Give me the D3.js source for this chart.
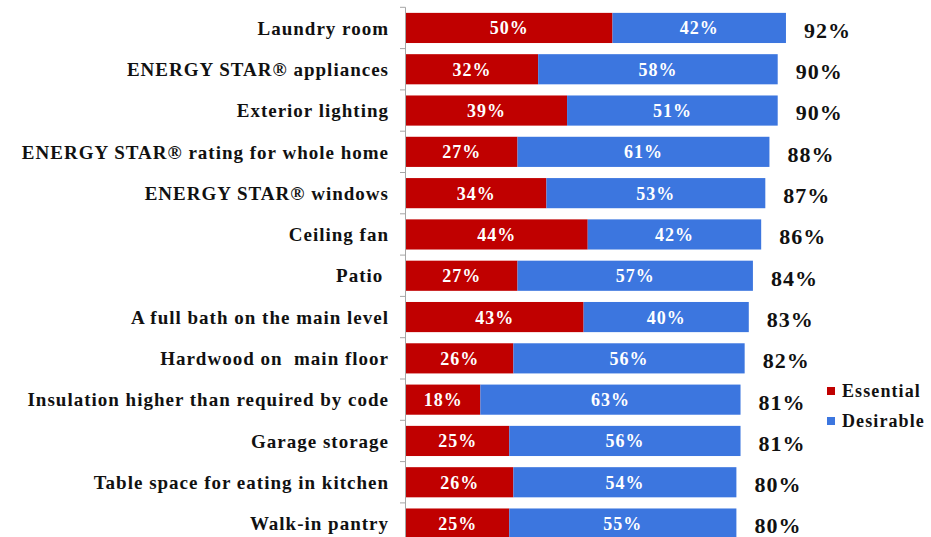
<!DOCTYPE html>
<html>
<head>
<meta charset="utf-8">
<script src="https://cdn.jsdelivr.net/npm/d3@7"></script>
<style>
  html, body { margin: 0; padding: 0; background: #fff; }
  svg { display: block; }
</style>
</head>
<body>
<svg id="chart" width="931" height="537"></svg>
<script>
const categories = [
  "Laundry room",
  "ENERGY STAR® appliances",
  "Exterior lighting",
  "ENERGY STAR® rating for whole home",
  "ENERGY STAR® windows",
  "Ceiling fan",
  "Patio ",
  "A full bath on the main level",
  "Hardwood on  main floor",
  "Insulation higher than required by code",
  "Garage storage",
  "Table space for eating in kitchen",
  "Walk-in pantry"
];
const essential = [50, 32, 39, 27, 34, 44, 27, 43, 26, 18, 25, 26, 25];
const desirable = [42, 58, 51, 61, 53, 42, 57, 40, 56, 63, 56, 54, 55];
const totals    = [92, 90, 90, 88, 87, 86, 84, 83, 82, 81, 81, 80, 80];
const seriesNames = ["Essential", "Desirable"];
const colors = ["#C00000", "#3C76DF"];

const FONT = "'Liberation Serif', 'Times New Roman', serif";

const svg = d3.select("#chart");
const x0 = 406, y0 = 7.3, step = 41.3;

const x = d3.scaleLinear().domain([0, 100]).range([x0, x0 + 413]);
const y = d3.scaleBand().domain(categories)
  .range([y0, y0 + step * categories.length])
  .paddingInner(0.27).paddingOuter(0.135);

const root = svg.append("g");

function styleText(sel) {
  return sel.attr("font-family", FONT).attr("font-weight", "bold").attr("xml:space", "preserve");
}

// axis line + ticks at band boundaries
const axisG = root.append("g");
axisG.append("line")
  .attr("x1", x0 - 0.5).attr("x2", x0 - 0.5)
  .attr("y1", y0).attr("y2", 537)
  .attr("stroke", "#a6a6a6").attr("stroke-width", 1);
d3.range(categories.length + 1).forEach(i => {
  const yy = y0 + i * step;
  axisG.append("line")
    .attr("x1", x0 - 6).attr("x2", x0 - 0.5)
    .attr("y1", yy).attr("y2", yy)
    .attr("stroke", "#a6a6a6").attr("stroke-width", 1);
});

// category labels
root.append("g").selectAll("text").data(categories).join("text")
  .call(styleText)
  .attr("x", x0 - 17)
  .attr("y", d => y(d) + y.bandwidth() / 2)
  .attr("dy", "0.35em")
  .attr("text-anchor", "end")
  .attr("font-size", 19)
  .attr("letter-spacing", 1)
  .attr("fill", "#111")
  .text(d => d);

const rows = categories.map((c, i) => ({ c, e: essential[i], d: desirable[i], t: totals[i] }));

// essential bars
root.append("g").selectAll("rect").data(rows).join("rect")
  .attr("x", x(0))
  .attr("y", r => y(r.c))
  .attr("width", r => x(r.e) - x(0))
  .attr("height", y.bandwidth())
  .attr("fill", colors[0]);

// desirable bars
root.append("g").selectAll("rect").data(rows).join("rect")
  .attr("x", r => x(r.e))
  .attr("y", r => y(r.c))
  .attr("width", r => x(r.e + r.d) - x(r.e))
  .attr("height", y.bandwidth())
  .attr("fill", colors[1]);

// segment labels
const segLabels = root.append("g");
segLabels.selectAll("text.e").data(rows).join("text").attr("class", "e")
  .call(styleText)
  .attr("fill", "#fff").attr("font-size", 18).attr("letter-spacing", 1).attr("text-anchor", "middle")
  .attr("x", r => (x(0) + x(r.e)) / 2)
  .attr("y", r => y(r.c) + y.bandwidth() / 2)
  .attr("dy", "0.36em")
  .text(r => r.e + "%");
segLabels.selectAll("text.d").data(rows).join("text").attr("class", "d")
  .call(styleText)
  .attr("fill", "#fff").attr("font-size", 18).attr("letter-spacing", 1).attr("text-anchor", "middle")
  .attr("x", r => (x(r.e) + x(r.e + r.d)) / 2)
  .attr("y", r => y(r.c) + y.bandwidth() / 2)
  .attr("dy", "0.36em")
  .text(r => r.d + "%");

// totals
root.append("g").selectAll("text").data(rows).join("text")
  .call(styleText)
  .attr("x", r => x(r.t) + 18)
  .attr("y", r => y(r.c) + y.bandwidth() / 2 + 2)
  .attr("dy", "0.36em")
  .attr("font-size", 22)
  .attr("letter-spacing", 1)
  .attr("fill", "#111")
  .text(r => r.t + "%");

// legend
const legend = root.append("g").attr("transform", "translate(827,387)");
seriesNames.forEach((n, i) => {
  const g = legend.append("g").attr("transform", `translate(0,${i * 30})`);
  g.append("rect").attr("width", 8).attr("height", 8).attr("fill", colors[i]);
  g.append("text").call(styleText).attr("x", 15).attr("y", 4).attr("dy", "0.36em")
    .attr("font-size", 18).attr("letter-spacing", 1.1).attr("fill", "#111").text(n);
});
</script>
</body>
</html>
